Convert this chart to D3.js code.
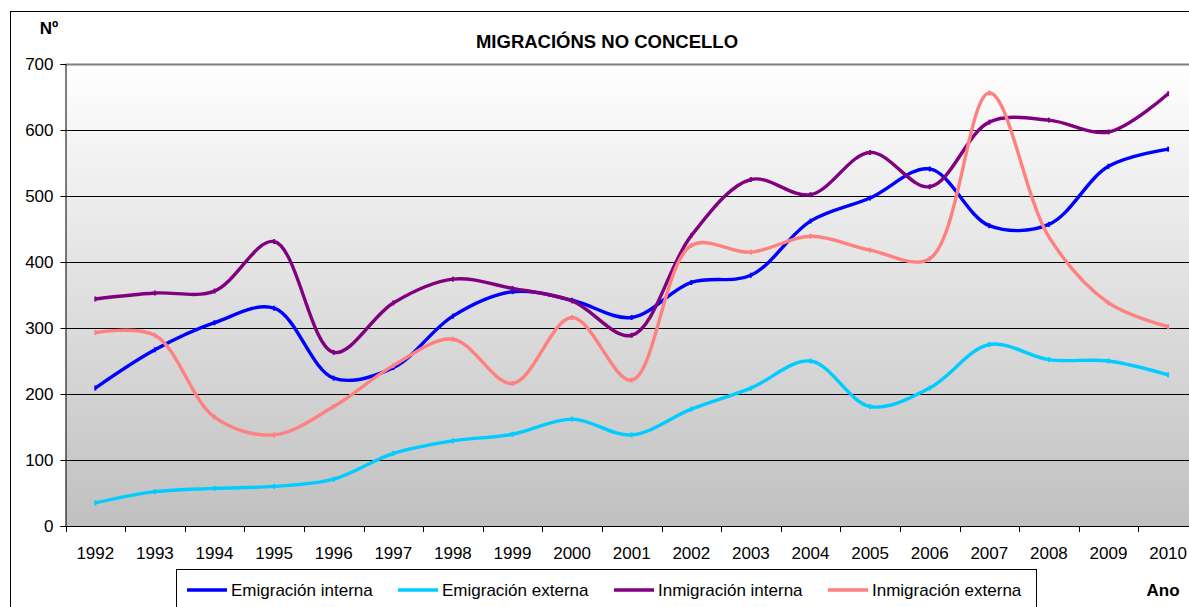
<!DOCTYPE html>
<html>
<head>
<meta charset="utf-8">
<script src="https://cdn.jsdelivr.net/npm/d3@7"></script>
<style>
  body { margin: 0; background: #fff; }
  svg text { font-family: "Liberation Sans", Arial, sans-serif; fill: #000; }
</style>
</head>
<body>
<div class="display"></div>
<script>
var years = ["1992", "1993", "1994", "1995", "1996", "1997", "1998", "1999", "2000", "2001",
             "2002", "2003", "2004", "2005", "2006", "2007", "2008", "2009", "2010"];

var emigracionInterna   = [209, 267, 308, 330, 224, 240, 318, 355, 342, 316, 369, 380, 462, 497, 541, 455, 457, 545, 571];
var emigracionExterna   = [35, 52, 57, 60, 71, 110, 129, 139, 162, 138, 177, 209, 250, 181, 209, 275, 252, 250, 229];
var inmigracionInterna  = [344, 353, 356, 431, 263, 338, 374, 360, 341, 289, 440, 525, 502, 566, 514, 612, 615, 597, 655];
var inmigracionExterna  = [293, 289, 165, 138, 181, 243, 283, 216, 316, 221, 425, 415, 439, 418, 405, 656, 438, 338, 302];

var seriesNames = ["Emigración interna", "Emigración externa", "Inmigración interna", "Inmigración externa"];
var seriesColors = ["#0000ff", "#00ccff", "#800080", "#ff8080"];
var yTicks = [0, 100, 200, 300, 400, 500, 600, 700];

var series = [emigracionInterna, emigracionExterna, inmigracionInterna, inmigracionExterna].map(function(values, i) {
  return { name: seriesNames[i], color: seriesColors[i], values: values };
});

var width = 1189, height = 607;
var plotLeft = 65.5, plotTop = 64, plotBottom = 526;
var bandStep = 59.6;

var x = d3.scaleBand()
  .domain(years)
  .range([plotLeft, plotLeft + bandStep * years.length])
  .padding(0);

var y = d3.scaleLinear()
  .domain([0, 700])
  .range([plotBottom, plotTop]);

var svg = d3.select(".display")
  .append("svg")
  .attr("width", width)
  .attr("height", height);

var grad = svg.append("defs").append("linearGradient")
  .attr("id", "bg")
  .attr("x1", 0).attr("y1", 0).attr("x2", 0).attr("y2", 1);
grad.append("stop").attr("offset", "0%").attr("stop-color", "#ffffff");
grad.append("stop").attr("offset", "100%").attr("stop-color", "#c0c0c0");

// outer chart frame
svg.append("rect")
  .attr("x", 10.5).attr("y", 11.5)
  .attr("width", width + 20).attr("height", height + 20)
  .attr("fill", "#fff")
  .attr("stroke", "#000");

svg.append("rect")
  .attr("x", plotLeft).attr("y", plotTop)
  .attr("width", width - plotLeft + 20).attr("height", plotBottom - plotTop)
  .attr("fill", "url(#bg)");

// gridlines
svg.append("g")
  .selectAll("line")
  .data(yTicks.filter(function(d) { return d > 0; }))
  .enter().append("line")
  .attr("x1", plotLeft).attr("x2", width)
  .attr("y1", function(d) { return Math.round(y(d)) + 0.5; })
  .attr("y2", function(d) { return Math.round(y(d)) + 0.5; })
  .attr("stroke", function(d) { return d === 700 ? "#808080" : "#000"; })
  .attr("stroke-width", function(d) { return d === 700 ? 2 : 1; });

// y axis
var yAxis = svg.append("g")
  .attr("transform", "translate(" + plotLeft + ",0)")
  .call(d3.axisLeft(y).tickValues(yTicks).tickSize(5).tickPadding(7));
yAxis.select(".domain").attr("stroke", "#000");
yAxis.selectAll(".tick line").attr("stroke", "#000");
yAxis.selectAll(".tick text").attr("font-size", 17).attr("font-family", "Liberation Sans, Arial, sans-serif").attr("fill", "#000");

// x axis, ticks between categories
var xAxis = svg.append("g")
  .attr("transform", "translate(0," + (plotBottom + 0.5) + ")")
  .call(d3.axisBottom(x).tickSize(0).tickPadding(20));
xAxis.select(".domain").attr("stroke", "#000").attr("d", "M" + plotLeft + ",0H" + width);
xAxis.selectAll(".tick text").attr("font-size", 17).attr("font-family", "Liberation Sans, Arial, sans-serif").attr("fill", "#000");

svg.append("g")
  .selectAll("line")
  .data(years)
  .enter().append("line")
  .attr("x1", function(d) { return Math.round(x(d)) + 0.5; })
  .attr("x2", function(d) { return Math.round(x(d)) + 0.5; })
  .attr("y1", plotBottom).attr("y2", plotBottom + 6)
  .attr("stroke", "#000");

// centripetal catmull-rom is close to excel's smoothed line
var line = d3.line()
  .x(function(d, i) { return x(years[i]) + x.bandwidth() / 2; })
  .y(function(d) { return y(d); })
  .curve(d3.curveCatmullRom.alpha(0.5));

var groups = svg.append("g")
  .selectAll("g")
  .data(series)
  .enter().append("g");

groups.append("path")
  .attr("d", function(s) { return line(s.values); })
  .attr("fill", "none")
  .attr("stroke", function(s) { return s.color; })
  .attr("stroke-width", 3.4)
  .attr("stroke-linejoin", "round");

groups.selectAll("rect")
  .data(function(s) { return s.values.map(function(v, i) { return { v: v, i: i, color: s.color }; }); })
  .enter().append("rect")
  .attr("x", function(d) { return x(years[d.i]) + x.bandwidth() / 2 - 1; })
  .attr("y", function(d) { return y(d.v) - 2.5; })
  .attr("width", 2).attr("height", 5)
  .attr("fill", function(d) { return d.color; });

// titles
svg.append("text")
  .attr("x", 607).attr("y", 48)
  .attr("text-anchor", "middle")
  .attr("font-size", 18.5).attr("font-weight", "bold")
  .text("MIGRACIÓNS NO CONCELLO");

svg.append("text")
  .attr("x", 49).attr("y", 34)
  .attr("text-anchor", "middle")
  .attr("font-size", 17).attr("font-weight", "bold")
  .text("Nº");

svg.append("text")
  .attr("x", 1163).attr("y", 596)
  .attr("text-anchor", "middle")
  .attr("font-size", 17).attr("font-weight", "bold")
  .text("Ano");

// legend
var legendX = [187, 398, 614, 828];
svg.append("rect")
  .attr("x", 176.5).attr("y", 569.5)
  .attr("width", 860).attr("height", 60)
  .attr("fill", "#fff")
  .attr("stroke", "#000");

var legend = svg.append("g")
  .selectAll("g")
  .data(series)
  .enter().append("g")
  .attr("transform", function(s, i) { return "translate(" + legendX[i] + ",590)"; });

legend.append("line")
  .attr("x1", 0).attr("x2", 40)
  .attr("y1", 0).attr("y2", 0)
  .attr("stroke", function(s) { return s.color; })
  .attr("stroke-width", 3.4);

legend.append("text")
  .attr("x", 44).attr("y", 6)
  .attr("font-size", 17)
  .text(function(s) { return s.name; });
</script>
</body>
</html>
